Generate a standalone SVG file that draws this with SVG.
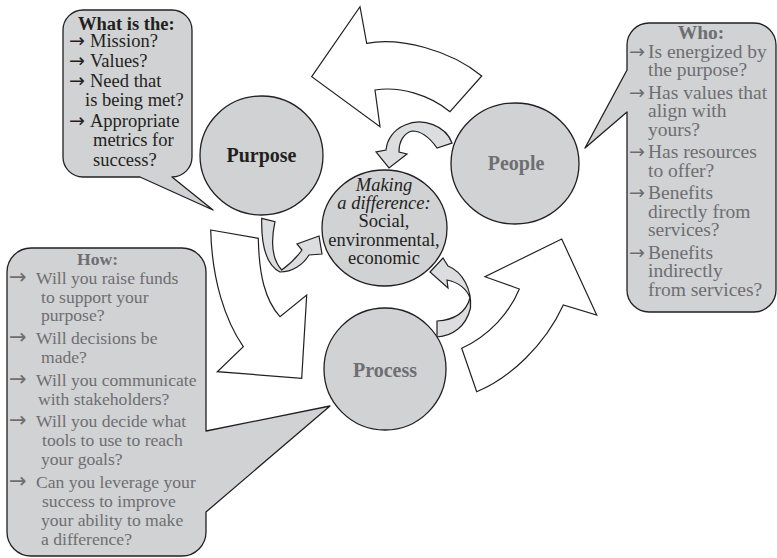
<svg xmlns="http://www.w3.org/2000/svg" width="777" height="558" viewBox="0 0 777 558">
  <style>
    .bubble { fill: #d1d2d4; stroke: #231f20; stroke-width: 1.3; stroke-linejoin: round; }
    .node { fill: #d1d2d4; stroke: #231f20; stroke-width: 1.3; }
    .big { fill: #ffffff; stroke: #231f20; stroke-width: 1.2; stroke-linejoin: miter; }
    .ribbon { fill: #dcdddf; stroke: #231f20; stroke-width: 1.2; stroke-linejoin: miter; }
    .crease { fill: none; stroke: #231f20; stroke-width: 0.9; }
    text { font-family: "Liberation Serif", "Times New Roman", serif; }
    .arr { font-family: "DejaVu Sans", sans-serif; font-weight: normal; }
    .dark { fill: #231f20; }
    .grey { fill: #6d6e71; }
    .b { font-weight: bold; }
    .what { font-size: 18.5px; }
    .who { font-size: 19.5px; }
    .how { font-size: 17.6px; }
    .what .arr, .who .arr { font-size: 19px; }
    .how .arr { font-size: 21px; }
    .label { font-size: 20px; font-weight: bold; text-anchor: middle; }
    .core { font-size: 18.5px; text-anchor: middle; fill: #231f20; }
    .it { font-style: italic; }
  </style>

  <!-- Callout: purpose questions -->
  <g id="callout-what">
    <path class="bubble" d="M 83,10 H 172 A 20 20 0 0 1 192,30 V 157 A 20 20 0 0 1 172,177 L 213,210 L 140,177 H 83 A 20 20 0 0 1 63,157 V 30 A 20 20 0 0 1 83,10 Z"/>
    <g class="what dark">
      <text class="b" x="78" y="29.5">What is the:</text>
      <text y="47"><tspan class="arr" x="69">→</tspan><tspan x="90">Mission?</tspan></text>
      <text y="67"><tspan class="arr" x="69">→</tspan><tspan x="90">Values?</tspan></text>
      <text y="87"><tspan class="arr" x="69">→</tspan><tspan x="90">Need that</tspan></text>
      <text x="85" y="106">is being met?</text>
      <text y="127"><tspan class="arr" x="69">→</tspan><tspan x="90">Appropriate</tspan></text>
      <text x="93" y="146">metrics for</text>
      <text x="93" y="165.5">success?</text>
    </g>
  </g>

  <!-- Callout: people questions -->
  <g id="callout-who">
    <path class="bubble" d="M 649,23 H 754 A 22 22 0 0 1 776,45 V 290 A 22 22 0 0 1 754,312 H 649 A 22 22 0 0 1 627,290 V 112 L 585,148 L 627,70 V 45 A 22 22 0 0 1 649,23 Z"/>
    <g class="who grey">
      <text class="b" x="701" y="39" text-anchor="middle">Who:</text>
      <text y="57.5"><tspan class="arr" x="629">→</tspan><tspan x="648">Is energized by</tspan></text>
      <text x="648" y="76">the purpose?</text>
      <text y="98.5"><tspan class="arr" x="629">→</tspan><tspan x="648">Has values that</tspan></text>
      <text x="648" y="117">align with</text>
      <text x="648" y="135.5">yours?</text>
      <text y="158"><tspan class="arr" x="629">→</tspan><tspan x="648">Has resources</tspan></text>
      <text x="648" y="176.5">to offer?</text>
      <text y="199"><tspan class="arr" x="629">→</tspan><tspan x="648">Benefits</tspan></text>
      <text x="648" y="217.5">directly from</text>
      <text x="648" y="236">services?</text>
      <text y="258.5"><tspan class="arr" x="629">→</tspan><tspan x="648">Benefits</tspan></text>
      <text x="648" y="277">indirectly</text>
      <text x="648" y="295.5">from services?</text>
    </g>
  </g>

  <!-- Callout: process questions -->
  <g id="callout-how">
    <path class="bubble" d="M 31,248 H 182 A 24 24 0 0 1 206,272 V 431 L 330,406 L 206,512 V 532 A 24 24 0 0 1 182,556 H 31 A 24 24 0 0 1 7,532 V 272 A 24 24 0 0 1 31,248 Z"/>
    <g class="how grey">
      <text class="b" x="77" y="265">How:</text>
      <text y="284"><tspan class="arr" x="9">→</tspan><tspan x="36">Will you raise funds</tspan></text>
      <text x="41" y="303">to support your</text>
      <text x="41" y="321">purpose?</text>
      <text y="344"><tspan class="arr" x="9">→</tspan><tspan x="36">Will decisions be</tspan></text>
      <text x="41" y="363">made?</text>
      <text y="386"><tspan class="arr" x="9">→</tspan><tspan x="36">Will you communicate</tspan></text>
      <text x="38" y="405">with stakeholders?</text>
      <text y="427"><tspan class="arr" x="9">→</tspan><tspan x="36">Will you decide what</tspan></text>
      <text x="42" y="446">tools to use to reach</text>
      <text x="41" y="465">your goals?</text>
      <text y="488"><tspan class="arr" x="9">→</tspan><tspan x="36">Can you leverage your</tspan></text>
      <text x="42" y="507">success to improve</text>
      <text x="41" y="526">your ability to make</text>
      <text x="41" y="545">a difference?</text>
    </g>
  </g>

  <!-- Connectors: outer cycle arrows and ribbon arrows into the centre -->
  <g id="connectors">
    <path id="cycle-people-purpose" class="big" d="M 366.7,43.3 C 400,37 450,50 481.7,76 L 450,111.7 C 430,95 400,86 375,90 L 380,126.7 L 311.7,76.7 L 360,6.7 Z"/>
    <path id="cycle-purpose-process" class="big" d="M 210.7,230 L 258.3,238.3 C 259,275 265,300 280,316.7 L 306.7,295 L 301.7,378.3 L 217.3,371.7 L 243.3,346.7 C 225,320 212,280 210.7,230 Z"/>
    <path id="cycle-process-people" class="big" d="M 461.7,348.3 L 476.7,391.7 C 510,378 545,345 563.3,305 L 596.7,315 L 561.7,239 L 485,276.7 L 519.3,289 C 510,312 490,335 461.7,348.3 Z"/>
    <path id="feed-purpose" class="ribbon" d="M 261.7,218.3 L 275,221.7 C 271,240 271,258 281.7,270 C 290,264 297,257 302,250 L 297,244 L 319,236 L 322,254 L 309,255 C 303,265 292,272 280,272 C 268,266 261,250 261.7,218.3 Z"/>
    <path id="feed-people" class="ribbon" d="M 452,143 C 446,126 423,117 405,125 C 393,130 387,140 386,150 L 376,152 L 389,168 L 407,154 L 399,152 C 399,141 404,133 412,131 C 421,131 430,138 437,148 Z"/>
    <path id="feed-process" class="ribbon" d="M 437,337 C 452,336 466,327 470.5,308 C 472,290 463,272 448,266 L 443,258 L 430,272 L 448,288 L 447,280 C 458,282 467,289 470,298 C 466,312 455,320 437,321 Z"/>
    <path class="crease" d="M 470,298 L 470.5,308"/>
  </g>

  <!-- Nodes -->
  <g id="purpose">
    <ellipse class="node" cx="261.5" cy="155.5" rx="61.5" ry="59.5"/>
    <text class="label dark" x="261.5" y="162">Purpose</text>
  </g>
  <g id="people">
    <ellipse class="node" cx="515" cy="163.5" rx="64" ry="60.5"/>
    <text class="label grey" x="516" y="170">People</text>
  </g>
  <g id="process">
    <ellipse class="node" cx="385" cy="369" rx="61" ry="61"/>
    <text class="label grey" x="385" y="377">Process</text>
  </g>
  <g id="impact">
    <ellipse class="node" cx="384.5" cy="228" rx="62.5" ry="58"/>
    <text class="core it" x="384" y="191">Making</text>
    <text class="core it" x="384" y="209">a difference:</text>
    <text class="core" x="384" y="227">Social,</text>
    <text class="core" x="384" y="246">environmental,</text>
    <text class="core" x="384" y="264">economic</text>
  </g>
</svg>
